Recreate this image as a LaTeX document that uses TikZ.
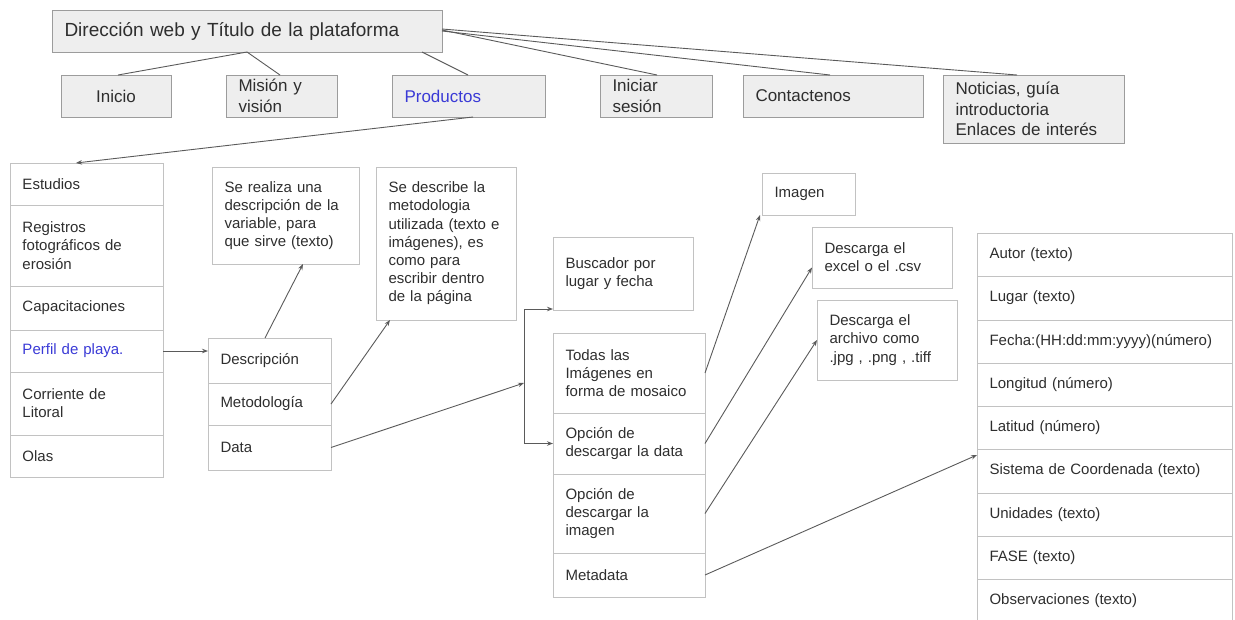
\documentclass[tikz,border=0pt]{standalone}
\usepackage{fontspec}
\setmainfont{Liberation Sans}
\usetikzlibrary{arrows.meta,calc}

\definecolor{inkgray}{HTML}{2E2E2E}
\definecolor{linegray}{HTML}{5A5A5A}
\definecolor{topframe}{HTML}{9C9C9C}
\definecolor{topfill}{HTML}{EEEEEE}
\definecolor{listframe}{HTML}{C2C2C2}
\definecolor{linkblue}{HTML}{3A3AD6}

% a box given by its top-left and bottom-right corners (x1,y1,x2,y2)
\newcommand\mkcell[7]{%
  \pgfmathsetmacro\mkcellw{#5-#3}%
  \pgfmathsetmacro\mkcellh{#6-#4}%
  \pgfmathsetmacro\mkcellt{#5-#3-25}%
  \node[#1, minimum width=\mkcellw pt, minimum height=\mkcellh pt,
        text width=\mkcellt pt, anchor=north west] (#2) at (#3,#4) {#7};}

\tikzset{
  cellbase/.style={rectangle, inner xsep=12.5pt, inner ysep=0pt, outer sep=0pt,
                   align=left, text=inkgray},
  topbox/.style={cellbase, draw=topframe, fill=topfill, line width=0.9pt,
                 font=\fontsize{17}{20.5}\selectfont},
  titlebox/.style={topbox, font=\fontsize{19}{22}\selectfont},
  listbox/.style={cellbase, draw=listframe, line width=0.9pt,
                  font=\fontsize{15}{18.2}\selectfont},
  conn/.style={draw=linegray, line width=0.9pt},
  arr/.style={conn, -{Stealth[length=6pt,width=4.5pt]}},
}

\begin{document}
\begin{tikzpicture}[x=1pt,y=-1pt]
\useasboundingbox (0,0) rectangle (1235,619);

% site header and main menu
\mkcell{titlebox}{title}{52}{10}{442}{52}{Dirección web y Título de la plataforma}
\mkcell{topbox,align=center}{inicio}{61}{75}{171}{117}{Inicio}
\mkcell{topbox}{mision}{226}{75}{337}{117}{Misión y\\visión}
\mkcell{topbox,text=linkblue}{productos}{392}{75}{545}{117}{Productos}
\mkcell{topbox}{iniciar}{600}{75}{712}{117}{Iniciar\\sesión}
\mkcell{topbox}{contacto}{743}{75}{923}{117}{Contactenos}
\mkcell{topbox}{noticias}{943}{75}{1124}{143}{Noticias, guía\\introductoria\\Enlaces de interés}

% product list
\mkcell{listbox}{estudios}{10}{163}{163}{205}{Estudios}
\mkcell{listbox}{registros}{10}{205}{163}{286}{Registros\\fotográficos de\\erosión}
\mkcell{listbox}{capacit}{10}{286}{163}{330}{Capacitaciones}
\mkcell{listbox,text=linkblue}{perfil}{10}{330}{163}{372}{Perfil de playa.}
\mkcell{listbox}{corriente}{10}{372}{163}{435}{Corriente de\\Litoral}
\mkcell{listbox}{olas}{10}{435}{163}{477}{Olas}

% sections of a product
\mkcell{listbox}{descripcion}{208}{338}{331}{383}{Descripción}
\mkcell{listbox}{metodologia}{208}{383}{331}{425}{Metodología}
\mkcell{listbox}{data}{208}{425}{331}{470}{Data}

\mkcell{listbox}{descnote}{212}{167}{359}{264}{Se realiza una\\descripción de la\\variable, para\\que sirve (texto)}
\mkcell{listbox}{metnote}{376}{167}{516}{320}{Se describe la\\metodologia\\utilizada (texto e\\imágenes), es\\como para\\escribir dentro\\de la página}

% data page
\mkcell{listbox}{buscador}{553}{237}{693}{310}{Buscador por\\lugar y fecha}
\mkcell{listbox}{todas}{553}{333}{705}{413}{Todas las\\Imágenes en\\forma de mosaico}
\mkcell{listbox}{opdata}{553}{413}{705}{474}{Opción de\\descargar la data}
\mkcell{listbox}{opimg}{553}{474}{705}{553}{Opción de\\descargar la\\imagen}
\mkcell{listbox}{metadata}{553}{553}{705}{597}{Metadata}

\mkcell{listbox}{imagen}{762}{173}{855}{215}{Imagen}
\mkcell{listbox}{excel}{812}{227}{952}{288}{Descarga el\\excel o el .csv}
\mkcell{listbox}{archivo}{817}{300}{957}{380}{Descarga el\\archivo como\\.jpg , .png , .tiff}

% metadata fields
\mkcell{listbox}{autor}{977}{233}{1232}{276}{Autor (texto)}
\mkcell{listbox}{lugar}{977}{276}{1232}{320}{Lugar (texto)}
\mkcell{listbox}{fecha}{977}{320}{1232}{363}{Fecha:(HH:dd:mm:yyyy)(número)}
\mkcell{listbox}{longitud}{977}{363}{1232}{406}{Longitud (número)}
\mkcell{listbox}{latitud}{977}{406}{1232}{449}{Latitud (número)}
\mkcell{listbox}{sistema}{977}{449}{1232}{493}{Sistema de Coordenada (texto)}
\mkcell{listbox}{unidades}{977}{493}{1232}{536}{Unidades (texto)}
\mkcell{listbox}{fase}{977}{536}{1232}{579}{FASE (texto)}
\mkcell{listbox}{obs}{977}{579}{1232}{623}{Observaciones (texto)}

% header to menu
\draw[conn] ([xshift=195pt]title.south west) -- ([xshift=57pt]inicio.north west);
\draw[conn] ([xshift=195pt]title.south west) -- ([xshift=54pt]mision.north west);
\draw[conn] ([xshift=-20pt]title.south east) -- ([xshift=76pt]productos.north west);
\draw[conn] ([yshift=1pt]title.east) -- ([xshift=57pt]iniciar.north west);
\draw[conn] (title.east) -- ([xshift=87pt]contacto.north west);
\draw[conn] ([yshift=2pt]title.east) -- ([xshift=74pt]noticias.north west);

% menu to lists
\draw[arr] ([xshift=81pt]productos.south west) -- ([xshift=66pt]estudios.north west);
\draw[arr] (perfil.east) -- (perfil.east -| descripcion.west);
\draw[arr] ([xshift=57pt]descripcion.north west) -- ([xshift=91pt]descnote.south west);
\draw[arr] (metodologia.east) -- ([xshift=14pt]metnote.south west);

% data split
\coordinate (split) at (524,383);
\draw[arr] (data.east) -- (split);
\draw[arr] (split) |- ([yshift=1pt]buscador.south west);
\draw[arr] (split) |- (opdata.west);

% data options to targets
\draw[arr] (todas.east) -- ([xshift=-2pt]imagen.south west);
\draw[arr] (opdata.east) -- ([yshift=-10pt]excel.west);
\draw[arr] (opimg.east) -- (archivo.west);
\draw[arr] (metadata.east) -- ([yshift=16pt]sistema.west);
\end{tikzpicture}
\end{document}
